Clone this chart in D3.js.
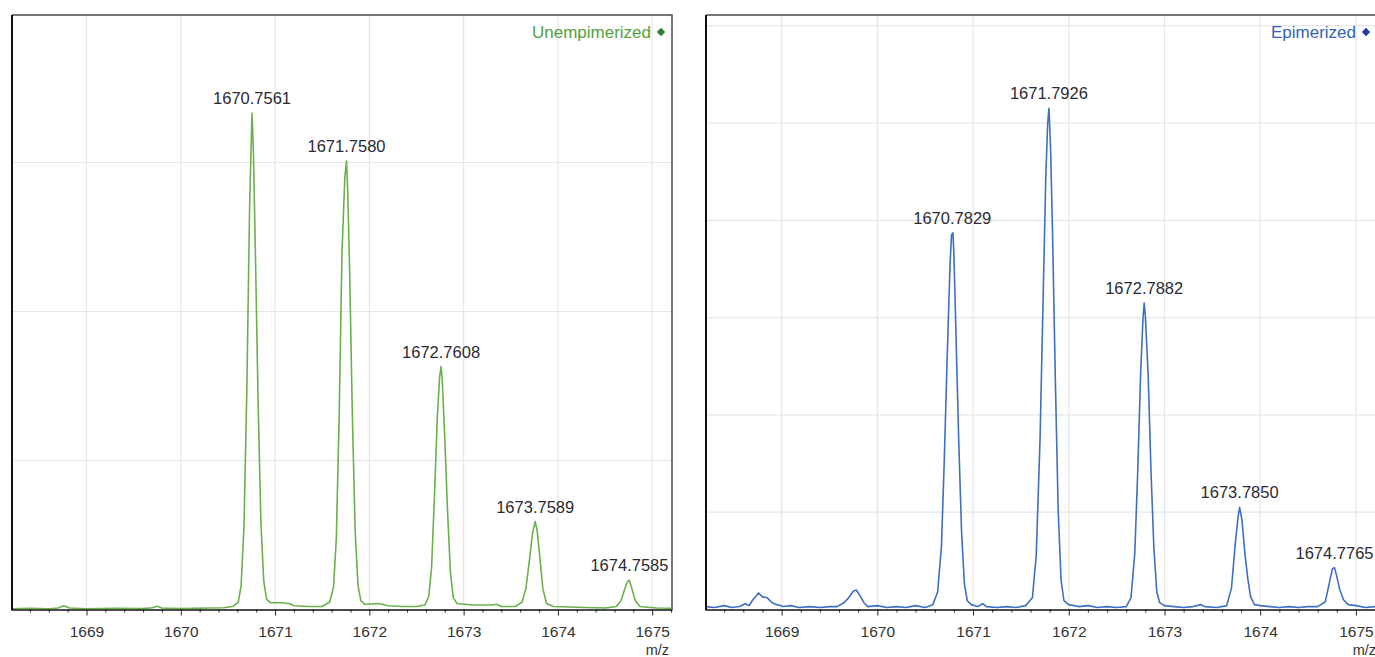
<!DOCTYPE html>
<html>
<head>
<meta charset="utf-8">
<script src="https://cdn.jsdelivr.net/npm/d3@7"></script>
<style>
  body { margin: 0; background: #fff; }
  svg { display: block; font-family: "Liberation Sans", Arial, sans-serif; }
</style>
</head>
<body>
<svg id="chart" width="1375" height="657"></svg>
<script>
// Unempimerized profile (m/z, relative intensity, 1 unit = 1 gridline)
const unepiMz = [1668.21, 1668.40, 1668.60, 1668.70, 1668.76, 1668.82, 1669.00, 1669.30, 1669.60, 1669.70, 1669.75, 1669.80,
  1670.00, 1670.30, 1670.45, 1670.55, 1670.61, 1670.64, 1670.67, 1670.70, 1670.73, 1670.75, 1670.756, 1670.77, 1670.79,
  1670.82, 1670.85, 1670.88, 1670.91, 1670.95, 1671.05, 1671.15, 1671.20, 1671.35, 1671.50, 1671.58, 1671.62, 1671.65,
  1671.68, 1671.71, 1671.74, 1671.758, 1671.77, 1671.79, 1671.82, 1671.85, 1671.88, 1671.91, 1671.95, 1672.10, 1672.20,
  1672.35, 1672.50, 1672.59, 1672.63, 1672.66, 1672.69, 1672.72, 1672.745, 1672.761, 1672.775, 1672.80, 1672.83, 1672.86,
  1672.89, 1672.93, 1673.10, 1673.30, 1673.35, 1673.40, 1673.55, 1673.62, 1673.66, 1673.70, 1673.73, 1673.759, 1673.78,
  1673.81, 1673.84, 1673.88, 1673.95, 1674.20, 1674.50, 1674.62, 1674.67, 1674.71, 1674.74, 1674.758, 1674.78, 1674.82,
  1674.87, 1674.95, 1675.05, 1675.21];
const unepiInt = [0.005, 0.008, 0.005, 0.010, 0.025, 0.010, 0.005, 0.008, 0.006, 0.012, 0.022, 0.010,
  0.006, 0.010, 0.012, 0.020, 0.05, 0.16, 0.55, 1.45, 2.70, 3.20, 3.33, 3.08, 2.45,
  1.40, 0.58, 0.19, 0.07, 0.045, 0.045, 0.04, 0.025, 0.02, 0.02, 0.05, 0.15, 0.48,
  1.30, 2.40, 2.90, 3.01, 2.82, 2.30, 1.30, 0.52, 0.16, 0.06, 0.035, 0.04, 0.025,
  0.02, 0.02, 0.03, 0.09, 0.28, 0.75, 1.28, 1.56, 1.63, 1.52, 1.15, 0.65, 0.25,
  0.08, 0.04, 0.03, 0.03, 0.035, 0.02, 0.02, 0.05, 0.14, 0.34, 0.51, 0.59, 0.53,
  0.34, 0.14, 0.04, 0.02, 0.015, 0.01, 0.02, 0.06, 0.14, 0.19, 0.195, 0.15, 0.06,
  0.02, 0.015, 0.01, 0.008];
const unepiPeaks = [1670.7561, 1671.7580, 1672.7608, 1673.7589, 1674.7585];
const unepiPeakInt = [3.33, 3.01, 1.63, 0.59, 0.195];

// Epimerized profile
const epiMz = [1668.21, 1668.30, 1668.40, 1668.48, 1668.56, 1668.62, 1668.66, 1668.70, 1668.76, 1668.80, 1668.85, 1668.90,
  1668.95, 1669.02, 1669.10, 1669.18, 1669.30, 1669.40, 1669.50, 1669.58, 1669.65, 1669.70, 1669.75, 1669.78, 1669.82,
  1669.86, 1669.90, 1670.00, 1670.10, 1670.20, 1670.30, 1670.40, 1670.50, 1670.58, 1670.63, 1670.67, 1670.70, 1670.73,
  1670.76, 1670.775, 1670.79, 1670.80, 1670.82, 1670.85, 1670.88, 1670.91, 1670.94, 1670.98, 1671.05, 1671.10, 1671.14,
  1671.25, 1671.35, 1671.45, 1671.55, 1671.62, 1671.66, 1671.70, 1671.73, 1671.76, 1671.78, 1671.793, 1671.81, 1671.83,
  1671.86, 1671.89, 1671.92, 1671.95, 1672.00, 1672.10, 1672.20, 1672.30, 1672.40, 1672.50, 1672.60, 1672.65, 1672.69,
  1672.72, 1672.75, 1672.775, 1672.788, 1672.80, 1672.83, 1672.86, 1672.89, 1672.92, 1672.95, 1673.00, 1673.10, 1673.20,
  1673.30, 1673.38, 1673.42, 1673.55, 1673.65, 1673.70, 1673.74, 1673.77, 1673.785, 1673.81, 1673.84, 1673.87, 1673.90,
  1673.94, 1674.00, 1674.10, 1674.20, 1674.30, 1674.40, 1674.50, 1674.60, 1674.68, 1674.72, 1674.755, 1674.777, 1674.80,
  1674.83, 1674.87, 1674.92, 1675.00, 1675.10, 1675.21];
const epiInt = [0.03, 0.02, 0.04, 0.02, 0.03, 0.06, 0.04, 0.10, 0.17, 0.13, 0.12, 0.07,
  0.05, 0.03, 0.04, 0.02, 0.03, 0.02, 0.03, 0.03, 0.07, 0.12, 0.19, 0.20, 0.14,
  0.07, 0.03, 0.04, 0.02, 0.03, 0.02, 0.04, 0.02, 0.05, 0.18, 0.65, 1.55, 2.60,
  3.55, 3.85, 3.87, 3.65, 2.90, 1.75, 0.80, 0.26, 0.09, 0.05, 0.03, 0.06, 0.03,
  0.02, 0.03, 0.02, 0.04, 0.12, 0.55, 1.75, 3.10, 4.45, 5.00, 5.15, 4.75, 3.90,
  2.35, 1.00, 0.30, 0.09, 0.05, 0.03, 0.04, 0.02, 0.03, 0.02, 0.03, 0.12, 0.58,
  1.40, 2.40, 2.98, 3.15, 3.02, 2.40, 1.40, 0.62, 0.18, 0.07, 0.04, 0.03, 0.02,
  0.03, 0.05, 0.03, 0.02, 0.04, 0.22, 0.68, 0.96, 1.05, 0.92, 0.58, 0.32, 0.13,
  0.05, 0.04, 0.03, 0.02, 0.03, 0.02, 0.03, 0.03, 0.08, 0.26, 0.42, 0.43, 0.34,
  0.21, 0.10, 0.05, 0.04, 0.02, 0.03];
const epiPeaks = [1670.7829, 1671.7926, 1672.7882, 1673.7850, 1674.7765];
const epiPeakInt = [3.87, 5.15, 3.15, 1.05, 0.43];

const xTicks = [1669, 1670, 1671, 1672, 1673, 1674, 1675];
const xDomain = [1668.21, 1675.21];

const svg = d3.select("#chart");

function drawPanel(opt) {
    const g = svg.append("g");
    const { x0, x1, y0, y1 } = opt;

    const x = d3.scaleLinear().domain(xDomain).range([x0, x1]);
    const y = d3.scaleLinear().domain([0, opt.yMax]).range([y1, y0]);

    const clipId = "clip-" + opt.name;
    svg.append("clipPath").attr("id", clipId)
        .append("rect").attr("x", x0).attr("y", y0).attr("width", x1 - x0).attr("height", y1 - y0);

    // grid
    g.append("g").selectAll("line")
        .data(xTicks)
        .join("line")
        .attr("x1", d => x(d)).attr("x2", d => x(d))
        .attr("y1", y0).attr("y2", y1)
        .attr("stroke", "#e6e6e6").attr("stroke-width", 1.2);
    g.append("g").selectAll("line")
        .data(d3.range(1, Math.floor(opt.yMax) + 1))
        .join("line")
        .attr("x1", x0).attr("x2", x1)
        .attr("y1", d => y(d)).attr("y2", d => y(d))
        .attr("stroke", "#e6e6e6").attr("stroke-width", 1.2);

    // frame top / right
    g.append("path")
        .attr("d", `M${x0},${y0}H${x1}V${y1}`)
        .attr("fill", "none").attr("stroke", "#4a4a4a").attr("stroke-width", 1.5);

    // spectrum
    const pts = opt.mz.map((m, i) => [m, opt.int[i]]);
    g.append("path")
        .datum(pts)
        .attr("clip-path", `url(#${clipId})`)
        .attr("fill", "none")
        .attr("stroke", opt.color)
        .attr("stroke-width", 1.6)
        .attr("stroke-linejoin", "round")
        .attr("d", d3.line().x(d => x(d[0])).y(d => y(d[1])));

    // x axis
    const minor = d3.range(1668.4, 1675.21, 0.2).filter(v => Math.abs(v - Math.round(v)) > 0.01);
    g.append("g")
        .attr("transform", `translate(0,${y1})`)
        .call(d3.axisBottom(x).tickValues(minor).tickSize(3).tickFormat(""))
        .call(a => a.select(".domain").remove())
        .selectAll("line").attr("stroke", "#222");
    const ax = g.append("g")
        .attr("transform", `translate(0,${y1})`)
        .call(d3.axisBottom(x).tickValues(xTicks).tickSize(6).tickSizeOuter(0).tickPadding(10).tickFormat(d3.format("d")));
    ax.select(".domain").attr("stroke", "#111").attr("stroke-width", 1.6);
    ax.selectAll("line").attr("stroke", "#222");
    ax.selectAll("text").attr("font-size", 15.5).attr("fill", "#333")
        .attr("font-family", "Liberation Sans, Arial, sans-serif");

    // y axis line (no labels)
    g.append("line")
        .attr("x1", x0).attr("x2", x0).attr("y1", y0).attr("y2", y1 + 1)
        .attr("stroke", "#111").attr("stroke-width", 2);

    g.append("text")
        .attr("x", opt.mzLabelX).attr("y", 655)
        .attr("text-anchor", "end")
        .attr("font-size", 14.5).attr("fill", "#333")
        .text("m/z");

    // peak labels
    g.append("g").selectAll("text")
        .data(opt.peaks)
        .join("text")
        .attr("x", (d, i) => x(d))
        .attr("y", (d, i) => y(opt.peakInt[i]) - 9)
        .attr("text-anchor", "middle")
        .attr("font-size", 16.5).attr("fill", "#2a2a35")
        .text(d => d.toFixed(4));

    // legend
    const lg = g.append("g").attr("transform", `translate(${opt.legendX},32)`);
    lg.append("text")
        .attr("x", -10).attr("y", 5.5)
        .attr("text-anchor", "end")
        .attr("font-size", 17).attr("fill", opt.legendColor)
        .text(opt.name);
    lg.append("path")
        .attr("d", d3.symbol(d3.symbolDiamond2, 45)())
        .attr("fill", opt.markColor);
}

drawPanel({
    name: "Unempimerized", x0: 12, x1: 672, y0: 15, y1: 609.5, yMax: 3.99,
    mz: unepiMz, int: unepiInt, peaks: unepiPeaks, peakInt: unepiPeakInt,
    color: "#6ab04c", legendColor: "#55a03a", markColor: "#2e7d32",
    legendX: 661, mzLabelX: 669
});

drawPanel({
    name: "Epimerized", x0: 706, x1: 1376, y0: 15, y1: 609.5, yMax: 6.11,
    mz: epiMz, int: epiInt, peaks: epiPeaks, peakInt: epiPeakInt,
    color: "#3e6fc3", legendColor: "#3564b4", markColor: "#1f3f8f",
    legendX: 1366, mzLabelX: 1376
});
</script>
</body>
</html>
